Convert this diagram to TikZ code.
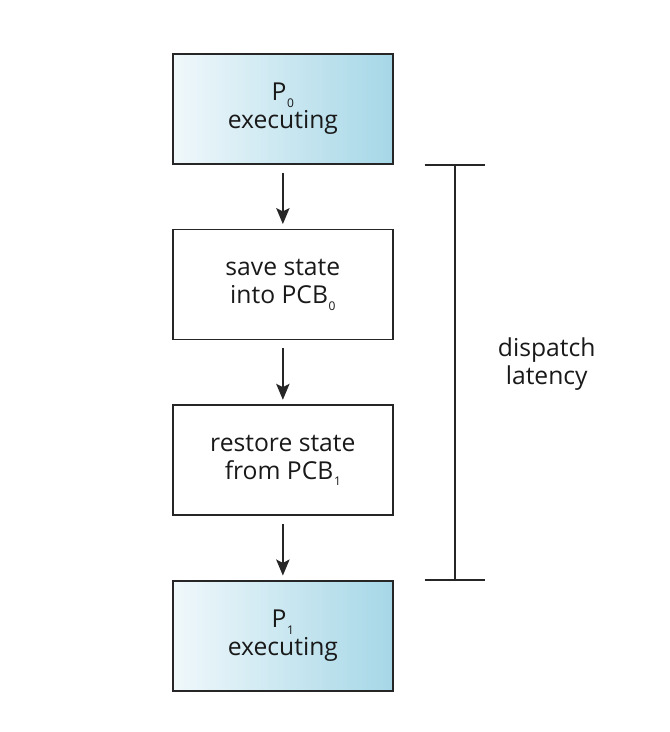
\documentclass[tikz,border=0pt]{standalone}
\usepackage{fontspec}
\setmainfont{Open Sans}
\usepackage{xcolor}
\usetikzlibrary{positioning,arrows.meta,calc}

\definecolor{procleft}{RGB}{240,248,251}
\definecolor{procright}{RGB}{166,215,231}
\newcommand{\lowsub}[1]{\kern0.5pt\raisebox{-5pt}{\fontsize{9}{9}\selectfont #1}}

\begin{document}
\begin{tikzpicture}[
    node distance=48pt,
    stage/.style={rectangle,draw=black!85,line width=1.3pt,minimum width=165pt,minimum height=82.5pt,inner sep=0pt,
        font=\fontsize{18.5}{21}\selectfont,align=center,text=black!90},
    running/.style={stage,left color=procleft,right color=procright},
    arrow/.style={-{Stealth[length=12pt,width=10pt,inset=2.5pt]},line width=1.3pt,black!85,shorten <=6pt,shorten >=3.5pt},
    bar/.style={line width=1.3pt,black!85}
]
\useasboundingbox (0,0) rectangle (501.75pt,-549pt);

\node[running,anchor=north west] (p0) at (129pt,-39.75pt) {P\lowsub{0}\\executing};
\node[stage,below=of p0] (save) {save state\\into PCB\lowsub{0}};
\node[stage,below=of save] (restore) {restore state\\from PCB\lowsub{1}};
\node[running,below=of restore] (p1) {P\lowsub{1}\\executing};

\draw[arrow] (p0) -- (save);
\draw[arrow] (save) -- (restore);
\draw[arrow] (restore) -- (p1);

% latency bracket
\coordinate (top) at ($(p0.south east)+(45.75pt,0)$);
\coordinate (bot) at ($(p1.north east)+(45.75pt,0)$);
\draw[bar] (top) -- (bot);
\draw[bar] ($(top)+(-22.5pt,0)$) -- ($(top)+(22.5pt,0)$);
\draw[bar] ($(bot)+(-22.5pt,0)$) -- ($(bot)+(22.5pt,0)$);
\node[font=\fontsize{18.5}{21}\selectfont,align=center,text=black!90] (lat) at ($(top)!0.5!(bot)+(69pt,6pt)$) {dispatch\\latency};

\end{tikzpicture}
\end{document}
